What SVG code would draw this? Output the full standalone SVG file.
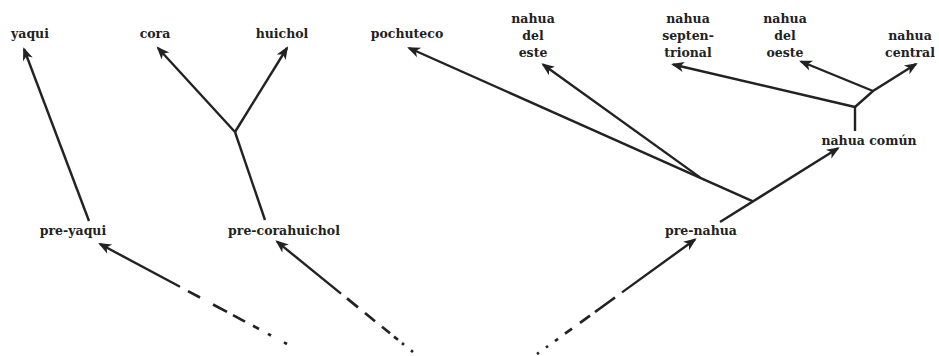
<svg xmlns="http://www.w3.org/2000/svg" width="939" height="356" viewBox="0 0 939 356">
<defs>
<marker id="ah" markerUnits="userSpaceOnUse" markerWidth="16" markerHeight="12" viewBox="-13 -6 16 12" refX="0" refY="0" orient="auto" overflow="visible">
<path d="M2,0 L-11,-5.2 L-7.5,0 L-11,5.2 Z" fill="#222"/>
</marker>
<style>
text{font-family:"DejaVu Serif","Liberation Serif",serif;font-weight:bold;font-size:12.5px;fill:#222;text-anchor:middle}
.l{stroke:#222;stroke-width:2.4;fill:none;stroke-linecap:butt}
.d line{stroke-width:2.7}
.a{marker-end:url(#ah)}
</style>
</defs>
<rect width="939" height="356" fill="#fff"/>
<g id="connectors">
<line class="l a" x1="89" y1="221" x2="24" y2="49"/>
<line class="l" x1="265" y1="220" x2="235" y2="132"/>
<line class="l a" x1="235" y1="132" x2="158" y2="48"/>
<line class="l a" x1="235" y1="132" x2="287" y2="48"/>
<line class="l a" x1="180" y1="286.8" x2="100" y2="244"/>
<g class="l d">
<line x1="188" y1="291.1" x2="200" y2="297.5"/>
<line x1="213" y1="304.5" x2="227" y2="311.9"/>
<line x1="233" y1="315.1" x2="245" y2="321.6"/>
<line x1="253" y1="325.8" x2="259" y2="329"/>
<line x1="268" y1="333.8" x2="271" y2="335.5"/>
<line x1="284" y1="342.4" x2="287" y2="344"/>
</g>
<line class="l a" x1="341" y1="293.6" x2="277" y2="241.6"/>
<g class="l d">
<line x1="347" y1="298.4" x2="358" y2="307.4"/>
<line x1="365" y1="313" x2="375" y2="321.2"/>
<line x1="382" y1="326.8" x2="390" y2="333.3"/>
<line x1="394" y1="336.6" x2="398" y2="339.8"/>
<line x1="402" y1="343.1" x2="404" y2="344.7"/>
<line x1="411" y1="350.4" x2="413" y2="352"/>
</g>
<line class="l a" x1="622" y1="292.4" x2="695" y2="239.5"/>
<g class="l d">
<line x1="615" y1="297.5" x2="595" y2="312"/>
<line x1="590" y1="315.6" x2="580" y2="322.8"/>
<line x1="572" y1="328.6" x2="565" y2="333.7"/>
<line x1="558" y1="338.8" x2="555" y2="341"/>
<line x1="548" y1="346" x2="546" y2="347.5"/>
<line x1="539" y1="352.6" x2="537" y2="354"/>
</g>
<line class="l a" x1="720" y1="222" x2="838" y2="148.3"/>
<line class="l a" x1="753" y1="201.4" x2="409" y2="48"/>
<line class="l a" x1="700" y1="177.4" x2="543" y2="64.5"/>
<line class="l" x1="855" y1="131" x2="855" y2="107"/>
<line class="l a" x1="855" y1="107" x2="673" y2="64.5"/>
<polyline class="l a" points="855,107 873,91 916,64"/>
<line class="l a" x1="873" y1="91" x2="801" y2="61.5"/>
</g>
<g id="yaqui"><text x="30" y="37.5">yaqui</text></g>
<g id="cora"><text x="155" y="37.5">cora</text></g>
<g id="huichol"><text x="282" y="37.5">huichol</text></g>
<g id="pochuteco"><text x="407" y="38">pochuteco</text></g>
<g id="nahua-del-este"><text x="533" y="22.5">nahua</text><text x="533" y="39.5">del</text><text x="533" y="56.5">este</text></g>
<g id="nahua-septentrional"><text x="688" y="22.5">nahua</text><text x="688" y="39.5">septen-</text><text x="688" y="56.5">trional</text></g>
<g id="nahua-del-oeste"><text x="785" y="22.5">nahua</text><text x="785" y="39.5">del</text><text x="785" y="56.5">oeste</text></g>
<g id="nahua-central"><text x="910" y="39.5">nahua</text><text x="910" y="56.5">central</text></g>
<g id="nahua-comun"><text x="869" y="144.5">nahua común</text></g>
<g id="pre-yaqui"><text x="73" y="235">pre-yaqui</text></g>
<g id="pre-corahuichol"><text x="284" y="235">pre-corahuichol</text></g>
<g id="pre-nahua"><text x="701" y="235">pre-nahua</text></g>
</svg>
